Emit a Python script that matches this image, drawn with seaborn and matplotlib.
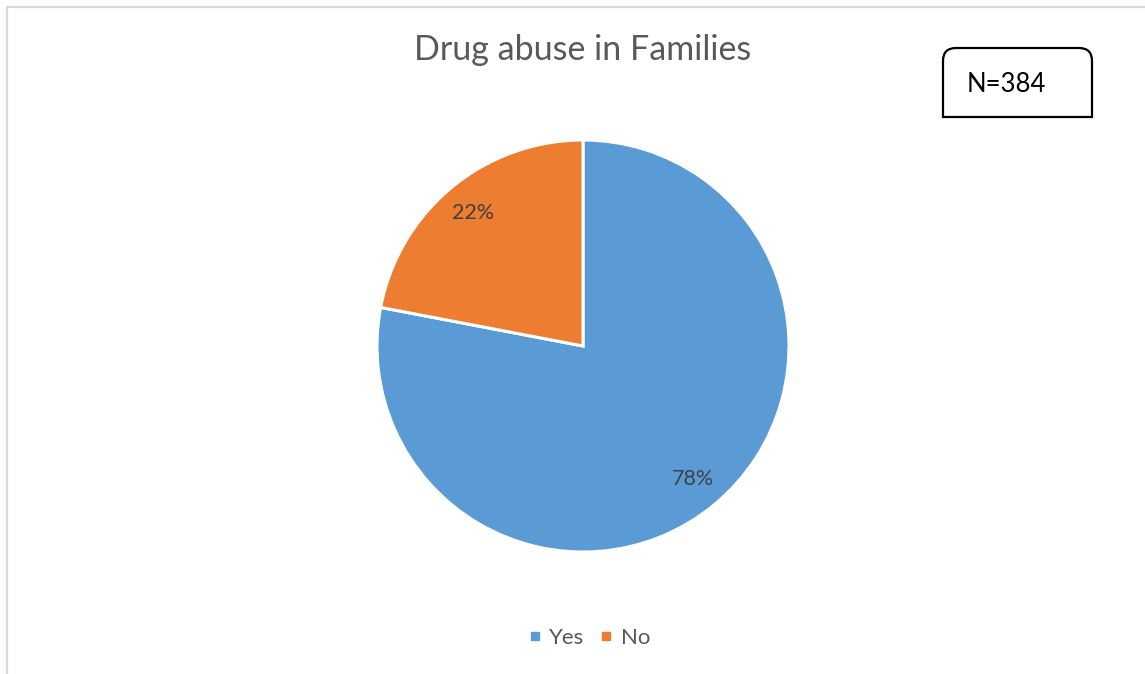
import numpy as np
import matplotlib
matplotlib.use("Agg")
import matplotlib.pyplot as plt
import seaborn as sns
from matplotlib.path import Path
from matplotlib.patches import PathPatch
from matplotlib.lines import Line2D

# data
labels = ["Yes", "No"]
shares = [78, 22]
colors = ["#5B9BD5", "#ED7D31"]
title = "Drug abuse in Families"
note = "N=384"

sns.set_theme(style="white")
plt.rcParams["font.family"] = ["Lato", "DejaVu Sans"]

W, H = 1145, 674
fig = plt.figure(figsize=(W / 100, H / 100), dpi=100)

# pie centred at (583, 346) px, radius 206 px
cx, cy, r = 583, 346, 206
ax = fig.add_axes([(cx - r) / W, (H - cy - r) / H, 2 * r / W, 2 * r / H])
wedges, _, autotexts = ax.pie(
    shares, colors=colors, startangle=90, counterclock=False,
    autopct="%1.0f%%", pctdistance=0.835,
    wedgeprops=dict(edgecolor="white", linewidth=2.2),
    textprops=dict(color="#404040", fontsize=15.5),
)
ax.set_xlim(-1, 1)
ax.set_ylim(-1, 1)
ax.set_aspect("auto")
ax.axis("off")

fig.text(cx / W, 1 - 50 / H, title, ha="center", va="center",
         fontsize=24.5, color="#595959")

# chart-area border (left and top edges visible)
def px(x, y):
    return x / W, 1 - y / H

bx0, by0 = px(6.5, 6.5)
fig.add_artist(Line2D([bx0, bx0], [0, by0], transform=fig.transFigure,
                      color="#D9D9D9", lw=1.6))
fig.add_artist(Line2D([bx0, 1], [by0, by0], transform=fig.transFigure,
                      color="#D9D9D9", lw=1.6))

# N box with rounded top corners
x0, x1, y0, y1, rr = 943, 1092, 48, 117, 13
verts = [px(x0, y1), px(x0, y0 + rr), px(x0, y0), px(x0 + rr, y0),
         px(x1 - rr, y0), px(x1, y0), px(x1, y0 + rr), px(x1, y1), px(x0, y1)]
codes = [Path.MOVETO, Path.LINETO, Path.CURVE3, Path.CURVE3,
         Path.LINETO, Path.CURVE3, Path.CURVE3, Path.LINETO, Path.CLOSEPOLY]
fig.add_artist(PathPatch(Path(verts, codes), transform=fig.transFigure,
                         facecolor="white", edgecolor="black", lw=1.6))
fig.text(967 / W, 1 - 85 / H, note, ha="left", va="center",
         fontsize=18.5, color="black")

handles = [Line2D([], [], marker="s", ls="", color=c, markersize=6) for c in colors]
fig.legend(handles, labels, loc="center", bbox_to_anchor=(588 / W, 1 - 638 / H),
           ncol=2, frameon=False, fontsize=16, handlelength=0.8,
           handletextpad=0.25, columnspacing=0.6, labelcolor="#595959")

fig.savefig("out.png", dpi=100, facecolor="white")
